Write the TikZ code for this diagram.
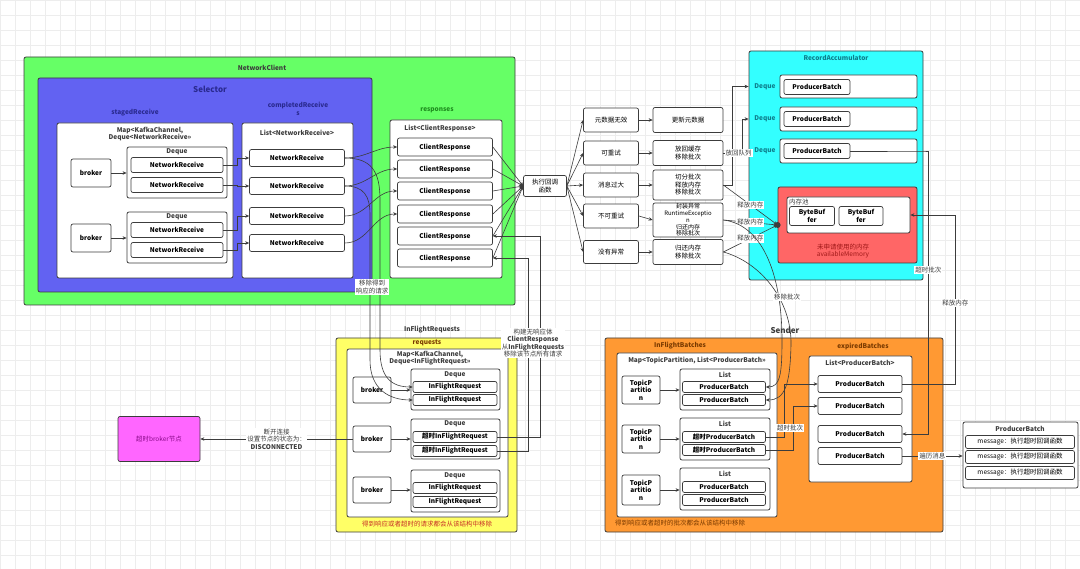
\documentclass[tikz,border=0pt]{standalone}
\usepackage{fontspec}
\setmainfont{Noto Sans CJK SC}
\usetikzlibrary{arrows.meta,positioning,fit,calc}
\definecolor{line}{HTML}{3C3C3C}
\definecolor{gridc}{HTML}{EDEDED}
\definecolor{ncgreen}{HTML}{66FF66}
\definecolor{selblue}{HTML}{6262F2}
\definecolor{seltxt}{HTML}{2A2A90}
\definecolor{respgreen}{HTML}{1E8C1E}
\definecolor{racyan}{HTML}{33FFFF}
\definecolor{ratxt}{HTML}{0E7E8C}
\definecolor{memred}{HTML}{FF6666}
\definecolor{memtxt}{HTML}{A01818}
\definecolor{ifyellow}{HTML}{FFFF66}
\definecolor{iftxt}{HTML}{C83228}
\definecolor{sdorange}{HTML}{FF9933}
\definecolor{sdtxt}{HTML}{7A3A00}
\definecolor{tmpink}{HTML}{FF66FF}
\definecolor{tmtxt}{HTML}{8A0A8A}
\newcommand{\boxfont}{\fontsize{6.5}{7.5}\selectfont\bfseries}
\newcommand{\lblfont}{\fontsize{6.5}{7.5}\selectfont}

\begin{document}
\begin{tikzpicture}[
  x=1pt, y=-1pt,
  >=Stealth,
  area/.style={draw=line, rounded corners=2pt, line width=0.8pt, inner sep=0pt},
  box/.style={draw=line, fill=white, rounded corners=2pt, line width=0.7pt, align=center, font=\boxfont, inner sep=0pt},
  title/.style={font=\boxfont, align=center, inner sep=0pt, text=line},
  brokerBox/.style={box, minimum width=40pt, minimum height=28pt},
  nrBox/.style={box, minimum width=92pt, minimum height=15pt},
  crBox/.style={box, minimum width=95pt, minimum height=18pt},
  condBox/.style={box, font=\lblfont, minimum width=55pt, minimum height=24pt},
  actBox/.style={box, font=\lblfont, minimum width=70pt, minimum height=25pt},
  pbBox/.style={box, minimum width=66pt, minimum height=15pt},
  ifrBox/.style={box, minimum width=84pt, minimum height=11pt},
  tpBox/.style={box, minimum width=38pt, minimum height=28pt},
  ipbBox/.style={box, minimum width=83pt, minimum height=11pt},
  epbBox/.style={box, minimum width=84pt, minimum height=17pt},
  msgBox/.style={box, font=\lblfont, minimum width=109pt, minimum height=13pt},
  arr/.style={-{Stealth[length=4pt,width=3.5pt]}, line width=0.6pt, color=line},
  elbl/.style={font=\lblfont, text=line, fill=white, inner sep=1pt, align=center},
]
\useasboundingbox (0,0) rectangle (1080,569);
\fill[white] (0,0) rectangle (1080,569);
\draw[gridc, line width=0.4pt] (0,0) grid[step=15pt] (1080,569);

% NetworkClient / Selector
\node[area, fill=ncgreen, fit={(24,57) (515,305)}] (netClient) {};
\node[title] (netClientT) at (262,68) {NetworkClient};
\node[area, fill=selblue, fit={(38,78) (372,292)}] (selector) {};
\node[title, text=seltxt, font=\fontsize{8}{9}\selectfont\bfseries] (selectorT) at (210,89) {Selector};
\node[title, text=seltxt] (stagedT) at (135,113) {stagedReceive};
\node[title, text=seltxt] (completedT) at (298,109) {completedReceive\\s};
\node[area, fill=white, fit={(57,123) (233,278)}] (stagedMap) {};
\node[title] (stagedMapT) at (150,134) {Map<KafkaChannel,\\Deque<NetworkReceive>>};
\node[area, fill=white, fit={(242,123) (353,278)}] (completedList) {};
\node[title] (completedListT) at (297,133) {List<NetworkReceive>};

\node[brokerBox] (sBroker1) at (91,173) {broker};
\node[brokerBox] (sBroker2) at (91,238) {broker};
\node[area, fill=white, fit={(127,147) (227,198)}] (sDeque1) {};
\node[title] (sDeque1T) at (177,152) {Deque};
\node[nrBox] (sNr1) at (177,165) {NetworkReceive};
\node[nrBox] (sNr2) at (177,185) {NetworkReceive};
\node[area, fill=white, fit={(127,212) (227,263)}] (sDeque2) {};
\node[title] (sDeque2T) at (177,217) {Deque};
\node[nrBox] (sNr3) at (177,230) {NetworkReceive};
\node[nrBox] (sNr4) at (177,250) {NetworkReceive};

\node[nrBox, minimum width=95pt, minimum height=17pt] (cNr1) at (297,158) {NetworkReceive};
\node[nrBox, minimum width=95pt, minimum height=17pt] (cNr2) at (297,186) {NetworkReceive};
\node[nrBox, minimum width=95pt, minimum height=17pt] (cNr3) at (297,216) {NetworkReceive};
\node[nrBox, minimum width=95pt, minimum height=17pt] (cNr4) at (297,243) {NetworkReceive};

% responses
\node[title, text=respgreen] (respT) at (437,110) {responses};
\node[area, fill=white, fit={(390,120) (502,278)}] (respList) {};
\node[title] (respListT) at (440,128) {List<ClientResponse>};
\node[crBox] (cr1) at (445,147) {ClientResponse};
\node[crBox] (cr2) at (445,169) {ClientResponse};
\node[crBox] (cr3) at (445,191) {ClientResponse};
\node[crBox] (cr4) at (445,214) {ClientResponse};
\node[crBox] (cr5) at (445,236) {ClientResponse};
\node[crBox] (cr6) at (445,258) {ClientResponse};

% callback
\node[box, font=\lblfont, minimum width=43pt, minimum height=21pt] (callback) at (545,186) {执行回调\\函数};
\node[condBox] (cond1) at (611,120) {元数据无效};
\node[condBox] (cond2) at (611,153) {可重试};
\node[condBox] (cond3) at (611,185) {消息过大};
\node[condBox] (cond4) at (611,216) {不可重试};
\node[condBox, minimum height=23pt] (cond5) at (611,252) {没有异常};
\node[actBox] (act1) at (688,120) {更新元数据};
\node[actBox] (act2) at (688,153) {放回缓存\\移除批次};
\node[actBox, minimum height=30pt] (act3) at (688,185) {切分批次\\释放内存\\移除批次};
\node[actBox, minimum height=34pt, font=\fontsize{6}{6.8}\selectfont] (act4) at (688,220) {封装异常\\RuntimeExceptio\\n\\归还内存\\移除批次};
\node[actBox] (act5) at (688,252) {归还内存\\移除批次};

% RecordAccumulator
\node[area, fill=racyan, fit={(749,51) (923,280)}] (recAcc) {};
\node[title, text=ratxt] (recAccT) at (836,58) {RecordAccumulator};
\node[area, fill=white, fit={(780,75) (917,98)}] (raDq1) {};
\node[area, fill=white, fit={(780,107) (917,131)}] (raDq2) {};
\node[area, fill=white, fit={(780,139) (917,163)}] (raDq3) {};
\node[title, text=ratxt] (raDq1T) at (765,87) {Deque};
\node[title, text=ratxt] (raDq2T) at (765,119) {Deque};
\node[title, text=ratxt] (raDq3T) at (765,151) {Deque};
\node[pbBox] (raPb1) at (817,87) {ProducerBatch};
\node[pbBox] (raPb2) at (817,119) {ProducerBatch};
\node[pbBox] (raPb3) at (817,151) {ProducerBatch};
\node[area, fill=memred, fit={(778,187) (917,263)}] (mem) {};
\node[area, fill=white, fit={(787,197) (910,233)}] (pool) {};
\node[title, font=\lblfont, anchor=west] (poolT) at (789,202) {内存池};
\node[box, minimum width=45pt, minimum height=19pt] (buf1) at (812,216) {ByteBuf\\fer};
\node[box, minimum width=44pt, minimum height=19pt] (buf2) at (861,216) {ByteBuf\\fer};
\node[title, text=memtxt, font=\lblfont] (memT) at (843,251) {未申请使用的内存\\availableMemory};

% InFlightRequests
\node[title] (ifrT) at (432,330) {InFlightRequests};
\node[area, fill=ifyellow, fit={(336,338) (517,532)}] (ifr) {};
\node[title, text=sdtxt] (ifrReqT) at (427,343) {requests};
\node[area, fill=white, fit={(347,349) (508,517)}] (ifrMap) {};
\node[title] (ifrMapT) at (430,358) {Map<KafkaChannel,\\Deque<InFlightRequest>>};
\node[brokerBox, minimum width=38pt, minimum height=26pt] (ifb1) at (372,390) {broker};
\node[brokerBox, minimum width=38pt, minimum height=26pt] (ifb2) at (372,439) {broker};
\node[brokerBox, minimum width=38pt, minimum height=26pt] (ifb3) at (372,490) {broker};
\node[area, fill=white, fit={(411,369) (500,410)}] (ifDq1) {};
\node[area, fill=white, fit={(411,419) (500,459)}] (ifDq2) {};
\node[area, fill=white, fit={(411,470) (500,512)}] (ifDq3) {};
\node[title] (ifDq1T) at (455,375) {Deque};
\node[title] (ifDq2T) at (455,424) {Deque};
\node[title] (ifDq3T) at (455,476) {Deque};
\node[ifrBox] (ifr1) at (455,387) {InFlightRequest};
\node[ifrBox] (ifr2) at (455,400) {InFlightRequest};
\node[ifrBox] (ifr3) at (455,437) {超时InFlightRequest};
\node[ifrBox] (ifr4) at (455,451) {超时InFlightRequest};
\node[ifrBox] (ifr5) at (455,488) {InFlightRequest};
\node[ifrBox] (ifr6) at (455,502) {InFlightRequest};
\node[title, text=iftxt, font=\lblfont] (ifrNote) at (427,524) {得到响应或者超时的请求都会从该结构中移除};

\node[box, fill=tmpink, text=tmtxt, font=\lblfont, minimum width=82pt, minimum height=45pt] (timeoutBroker) at (159,439) {超时broker节点};

% Sender
\node[title, font=\fontsize{8}{9}\selectfont\bfseries] (senderT) at (785,330) {Sender};
\node[area, fill=sdorange, fit={(605,338) (943,532)}] (sender) {};
\node[title, text=sdtxt] (ibT) at (680,346) {InFlightBatches};
\node[title, text=sdtxt] (ebT) at (863,346) {expiredBatches};
\node[area, fill=white, fit={(617,353) (777,517)}] (ibMap) {};
\node[title] (ibMapT) at (697,361) {Map<TopicPartition, List<ProducerBatch>>};
\node[tpBox] (tp1) at (641,390) {TopicP\\artitio\\n};
\node[tpBox] (tp2) at (641,439) {TopicP\\artitio\\n};
\node[tpBox, minimum height=30pt] (tp3) at (641,490) {TopicP\\artitio\\n};
\node[area, fill=white, fit={(680,369) (770,410)}] (ibList1) {};
\node[area, fill=white, fit={(680,418) (770,460)}] (ibList2) {};
\node[area, fill=white, fit={(680,468) (770,510)}] (ibList3) {};
\node[title] (ibList1T) at (725,375) {List};
\node[title] (ibList2T) at (725,424) {List};
\node[title] (ibList3T) at (725,474) {List};
\node[ipbBox] (ipb1) at (724,387) {ProducerBatch};
\node[ipbBox] (ipb2) at (724,400) {ProducerBatch};
\node[ipbBox] (ipb3) at (724,437) {超时ProducerBatch};
\node[ipbBox] (ipb4) at (724,450) {超时ProducerBatch};
\node[ipbBox] (ipb5) at (724,487) {ProducerBatch};
\node[ipbBox] (ipb6) at (724,500) {ProducerBatch};
\node[area, fill=white, fit={(809,356) (912,482)}] (ebList) {};
\node[title] (ebListT) at (860,363) {List<ProducerBatch>};
\node[epbBox] (epb1) at (860,384) {ProducerBatch};
\node[epbBox] (epb2) at (860,406) {ProducerBatch};
\node[epbBox] (epb3) at (860,434) {ProducerBatch};
\node[epbBox] (epb4) at (860,456) {ProducerBatch};
\node[title, text=sdtxt, font=\lblfont] (sdNote) at (680,523) {得到响应或者超时的批次都会从该结构中移除};

% expired ProducerBatch
\node[area, fill=white, fit={(963,422) (1078,488)}] (pbRight) {};
\node[title] (pbRightT) at (1020,429) {ProducerBatch};
\node[msgBox] (msg1) at (1020,442) {message：执行超时回调函数};
\node[msgBox] (msg2) at (1020,457) {message：执行超时回调函数};
\node[msgBox] (msg3) at (1020,473) {message：执行超时回调函数};

% selector connectors
\draw[arr] (sBroker1.east) -- (sBroker1.east -| sDeque1.west);
\draw[arr] (sBroker2.east) -- (sBroker2.east -| sDeque2.west);
\draw[arr] (sNr1.east) -- ++(14,0) |- (cNr1.west);
\draw[arr] (sNr2.east) -- ++(14,0) |- (cNr2.west);
\draw[arr] (sNr3.east) -- ++(14,0) |- (cNr3.west);
\draw[arr] (sNr4.east) -- ++(14,0) |- (cNr4.west);
\draw[arr] (cNr1.east) to[out=0, in=180] (cr1.west);
\draw[arr] (cNr2.east) to[out=0, in=180] (cr2.west);
\draw[arr] (cNr3.east) to[out=0, in=180] (cr3.west);
\draw[arr] (cNr4.east) to[out=0, in=180] (cr4.west);
\draw[arr] (cNr1.east) .. controls (372,158) and (380,172) .. (380,200) -- (380,350) .. controls (380,378) and (392,387) .. (ifr1.west);
\draw[arr] (cNr2.east) .. controls (364,186) and (370,196) .. (370,215) -- (370,360) .. controls (370,390) and (390,400) .. (ifr2.west);
\node[elbl] (lblRemoveReq) at (372,287) {移除得到\\响应的请求};

% callback connectors
\draw[arr] (cr1.east) -- (callback.west);
\draw[arr] (cr2.east) -- (callback.west);
\draw[arr] (cr3.east) -- (callback.west);
\draw[arr] (cr4.east) -- (callback.west);
\draw[arr] (cr5.east) -- (callback.west);
\draw[arr] (cr6.east) -- (callback.west);
\draw[arr] (callback.east) -- (cond1.west);
\draw[arr] (callback.east) -- (cond2.west);
\draw[arr] (callback.east) -- (cond3.west);
\draw[arr] (callback.east) -- (cond4.west);
\draw[arr] (callback.east) -- (cond5.west);
\draw[arr] (cond1.east) -- (act1.west);
\draw[arr] (cond2.east) -- (act2.west);
\draw[arr] (cond3.east) -- (act3.west);
\draw[arr] (cond4.east) -- (act4.west);
\draw[arr] (cond5.east) -- (act5.west);

\draw[arr] (act3.east) -- ++(9,0) |- (recAcc.west |- raDq1.west);
\draw[arr] (act2.east) -- node[elbl, pos=0.8] {放回队列} ++(19,0) |- (recAcc.west |- raDq2.west);
\draw[arr] (act3.east) -- node[elbl] {释放内存} (mem.west);
\draw[arr] (act4.east) -- node[elbl] {释放内存} (mem.west);
\draw[arr] (act5.east) -- node[elbl] {释放内存} (mem.west);
\fill[line] (mem.west) circle (3pt);
\draw[arr] (act4.east) .. controls (765,225) and (782,280) .. (782,340) .. controls (782,375) and (780,387) .. (ipb1.east);
\draw[arr] (act5.east) .. controls (760,262) and (792,300) .. (791,345) .. controls (790,385) and (785,400) .. (ipb2.east);
\node[elbl] (lblRemoveBatch) at (787,297) {移除批次};

% timeout connectors
\draw[arr] (raPb3.east) -- (raPb3.east -| recAcc.east) -- ++(5,0) |- node[elbl, pos=0.21] {超时批次} (epb3.east);
\draw[arr] (epb1.east) -- ++(53,0) |- node[elbl, pos=0.24] {释放内存} (pool.east);
\draw[arr] (epb4.east) -- node[elbl] {遍历消息} (epb4.east -| pbRight.west);
\draw[arr] (ipb3.east) -- ++(18,0) |- (epb1.west);
\draw[arr] (ipb4.east) -- ++(27,0) |- (epb2.west);
\node[elbl] (lblExpire) at (790,428) {超时批次};
\draw[arr] (tp1.east) -- (tp1.east -| ibList1.west);
\draw[arr] (tp2.east) -- (tp2.east -| ibList2.west);
\draw[arr] (tp3.east) -- (tp3.east -| ibList3.west);

\draw[arr] (ifb1.east) -- (ifb1.east -| ifDq1.west);
\draw[arr] (ifb2.east) -- (ifb2.east -| ifDq2.west);
\draw[arr] (ifb3.east) -- (ifb3.east -| ifDq3.west);
\draw[arr] (ifb2.west) -- node[elbl] {断开连接\\设置节点的状态为：\\\textbf{DISCONNECTED}} (timeoutBroker.east);
\draw[arr] (ifr3.east) -- ++(43,0) |- (cr5.east);
\draw[arr] (ifr4.east) -- ++(31,0) |- (cr6.east);
\node[elbl] (lblRebuild) at (533,343) {构建无响应体\\\textbf{ClientResponse}\\从\textbf{InFlightRequests}\\移除该节点所有请求};

\end{tikzpicture}
\end{document}
